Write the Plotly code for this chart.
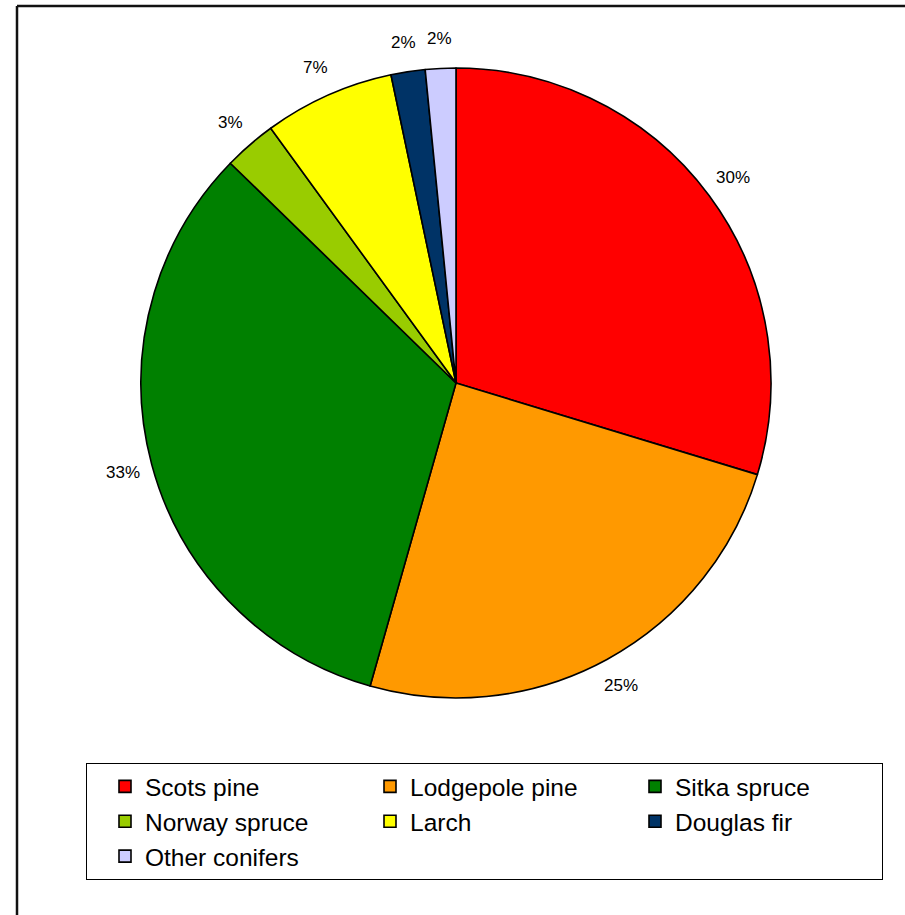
import math
import plotly.graph_objects as go

# Share of conifer area by species (percent)
species = ["Scots pine", "Lodgepole pine", "Sitka spruce", "Norway spruce",
           "Larch", "Douglas fir", "Other conifers"]
shares = [29.7, 24.7, 32.9, 2.7, 6.7, 1.75, 1.56]
colors = ["#FF0000", "#FF9900", "#008000", "#99CC00",
          "#FFFF00", "#003366", "#CCCCFF"]

W, H = 905, 915
# pie box in pixels (left, right, top, bottom)
PL, PR, PT, PB = 141, 771, 68, 698
cx, cy = (PL + PR) / 2, (PT + PB) / 2
radius = (PR - PL) / 2
label_r = radius + 30

fig = go.Figure(go.Pie(
    labels=species,
    values=shares,
    sort=False,
    direction="clockwise",
    rotation=0,
    marker=dict(colors=colors, line=dict(color="black", width=1.6)),
    textinfo="none",
    domain=dict(x=[PL / W, PR / W], y=[1 - PB / H, 1 - PT / H]),
    hoverinfo="label+percent",
))

# Percentage labels just outside each slice, at the slice's mid angle
total = sum(shares)
start = 0.0
for v in shares:
    frac = v / total
    mid = (start + frac / 2) * 2 * math.pi
    start += frac
    px = cx + label_r * math.sin(mid)
    py = cy - label_r * math.cos(mid)
    fig.add_annotation(
        x=px / W, y=1 - py / H, xref="paper", yref="paper",
        text=f"{round(frac * 100)}%", showarrow=False,
        xanchor="center", yanchor="middle",
        font=dict(family="Liberation Sans, Arial", size=17, color="black"),
    )

# Frame lines along the top and left edges
frame = dict(color="#111111", width=2.5)
fig.add_shape(type="line", xref="paper", yref="paper",
              x0=17 / W, x1=1.2, y0=1 - 6 / H, y1=1 - 6 / H, line=frame)
fig.add_shape(type="line", xref="paper", yref="paper",
              x0=17 / W, x1=17 / W, y0=1 - 6 / H, y1=-0.2, line=frame)

fig.update_layout(
    width=W, height=H,
    margin=dict(l=0, r=0, t=0, b=0, autoexpand=False),
    paper_bgcolor="white",
    plot_bgcolor="white",
    font=dict(family="Liberation Sans, Arial", color="black"),
    showlegend=True,
    legend=dict(
        orientation="h",
        x=86 / W, xanchor="left",
        y=1 - 763 / H, yanchor="top",
        entrywidth=202, entrywidthmode="pixels",
        bgcolor="white",
        bordercolor="black", borderwidth=1,
        font=dict(family="Liberation Sans, Arial", size=24.5, color="black"),
        traceorder="normal",
        indentation=18,
    ),
)

fig.write_html("out.html")
